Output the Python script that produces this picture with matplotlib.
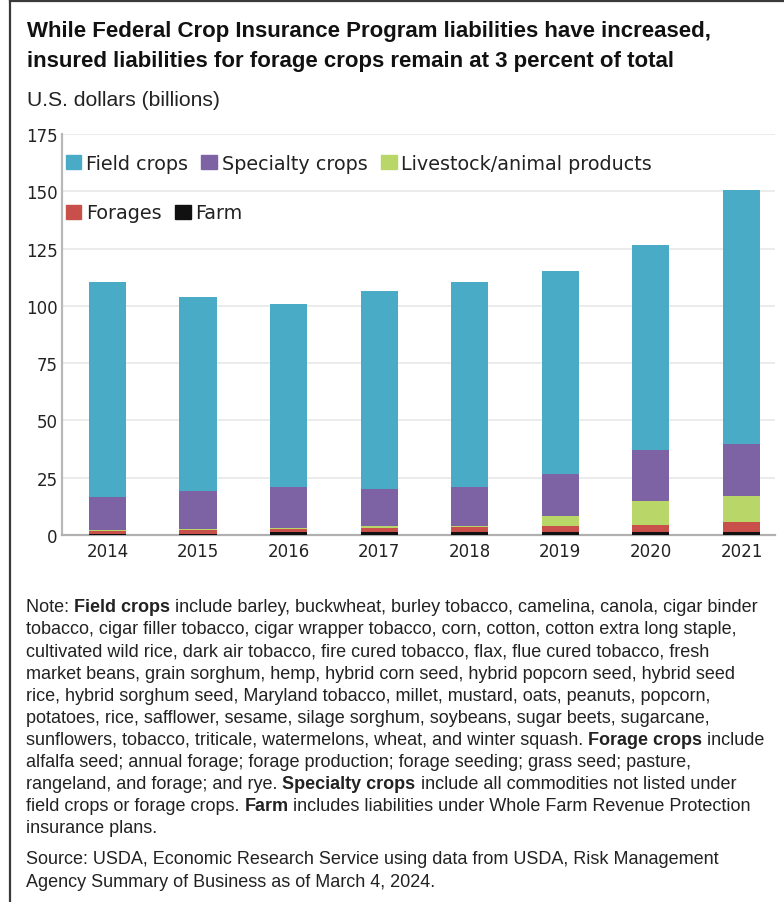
import matplotlib
matplotlib.use('Agg')
import matplotlib.pyplot as plt
from matplotlib.patches import Patch
from matplotlib.text import Annotation
from matplotlib.lines import Line2D
import matplotlib.font_manager as fm
import numpy as np

# ---------------- data ----------------
years = ['2014', '2015', '2016', '2017', '2018', '2019', '2020', '2021']
farm      = [0.3, 0.6, 1.2, 1.5, 1.5, 1.2, 1.2, 1.2]
forages   = [1.3, 1.5, 1.5, 1.7, 1.8, 2.6, 3.2, 4.4]
livestock = [0.5, 0.6, 0.5, 0.6, 0.7, 4.7, 10.3, 11.6]
specialty = [14.6, 16.5, 17.6, 16.2, 16.8, 18.1, 22.4, 22.5]
field     = [93.6, 84.8, 80.2, 86.5, 89.8, 88.7, 89.5, 110.8]
yticks = [0, 25, 50, 75, 100, 125, 150, 175]

title_lines = ["While Federal Crop Insurance Program liabilities have increased,",
               "insured liabilities for forage crops remain at 3 percent of total"]
ylabel_text = "U.S. dollars (billions)"
note_lines = [
    "Note: **Field crops** include barley, buckwheat, burley tobacco, camelina, canola, cigar binder",
    "tobacco, cigar filler tobacco, cigar wrapper tobacco, corn, cotton, cotton extra long staple,",
    "cultivated wild rice, dark air tobacco, fire cured tobacco, flax, flue cured tobacco, fresh",
    "market beans, grain sorghum, hemp, hybrid corn seed, hybrid popcorn seed, hybrid seed",
    "rice, hybrid sorghum seed, Maryland tobacco, millet, mustard, oats, peanuts, popcorn,",
    "potatoes, rice, safflower, sesame, silage sorghum, soybeans, sugar beets, sugarcane,",
    "sunflowers, tobacco, triticale, watermelons, wheat, and winter squash. **Forage crops** include",
    "alfalfa seed; annual forage; forage production; forage seeding; grass seed; pasture,",
    "rangeland, and forage; and rye. **Specialty crops** include all commodities not listed under",
    "field crops or forage crops. **Farm** includes liabilities under Whole Farm Revenue Protection",
    "insurance plans.",
]
source_lines = ["Source: USDA, Economic Research Service using data from USDA, Risk Management",
                "Agency Summary of Business as of March 4, 2024."]

# ---------------- fonts ----------------
names = {f.name for f in fm.fontManager.ttflist}
TEXT_FONT = 'Liberation Sans' if 'Liberation Sans' in names else 'DejaVu Sans'
plt.rcParams['font.family'] = 'DejaVu Sans'

W, H = 784, 903
fig = plt.figure(figsize=(W / 100, H / 100), dpi=100)
fig.patch.set_facecolor('white')

def fx(px):
    return px / W

def fy(py):
    return 1 - py / H

ax = fig.add_axes([fx(62), fy(536), (775 - 62) / W, (536 - 135) / H])

x = np.arange(len(years))
bw = 0.41
series = [('Farm', farm, '#111111'),
          ('Forages', forages, '#C9504A'),
          ('Livestock/animal products', livestock, '#B9D769'),
          ('Specialty crops', specialty, '#7D62A4'),
          ('Field crops', field, '#4AABC6')]
bottom = np.zeros(len(years))
colors = {}
for name, vals, col in series:
    ax.bar(x, vals, bw, bottom=bottom, color=col, label=name, zorder=3, linewidth=0)
    bottom += np.array(vals)
    colors[name] = col

ax.set_xlim(-0.502, 7.37)
ax.set_ylim(0, 175)
ax.set_yticks(yticks)
ax.set_xticks(x, years)
ax.grid(axis='y', color='#e9e9e9', lw=1.3, zorder=0)
ax.set_axisbelow(True)
ax.tick_params(length=0, labelsize=12, colors='#222222')
ax.tick_params(axis='y', pad=3)
ax.tick_params(axis='x', pad=5)
for s in ['top', 'right']:
    ax.spines[s].set_visible(False)
ax.spines['left'].set_color('#b8b8b8')
ax.spines['left'].set_linewidth(1.6)
ax.spines['bottom'].set_color('#b0b0b0')
ax.spines['bottom'].set_linewidth(1.6)

# legends
lfs = 13.8
common = dict(fontsize=lfs, frameon=False, borderpad=0, borderaxespad=0,
              handlelength=0.83, handleheight=0.78, handletextpad=0.25,
              columnspacing=0.68, labelcolor='#222222', loc='center left',
              bbox_transform=fig.transFigure)
row1 = ['Field crops', 'Specialty crops', 'Livestock/animal products']
row2 = ['Forages', 'Farm']
leg1 = ax.legend([Patch(color=colors[n]) for n in row1], row1, ncol=3,
                 bbox_to_anchor=(fx(65.5), fy(164)), **common)
ax.add_artist(leg1)
leg2 = ax.legend([Patch(color=colors[n]) for n in row2], row2, ncol=2,
                 bbox_to_anchor=(fx(65.5), fy(214)), **common)

# texts
TXT = '#222222'
t1 = fig.text(fx(27.5), fy(37), title_lines[0], fontsize=14, fontweight='bold',
              family=TEXT_FONT, color='#111111', va='baseline')
t2 = fig.text(fx(27.5), fy(67), title_lines[1], fontsize=14, fontweight='bold',
              family=TEXT_FONT, color='#111111', va='baseline')
yl = fig.text(fx(27.5), fy(106), ylabel_text, fontsize=12.5, family=TEXT_FONT,
              color=TXT, va='baseline')

def rich_line(x_px, y_px, line, size):
    parts = line.split('**')
    prev = None
    arts = []
    for i, p in enumerate(parts):
        if not p:
            continue
        w = 'bold' if i % 2 else 'normal'
        if prev is None:
            a = Annotation(p, xy=(fx(x_px), fy(y_px)), xycoords='figure fraction',
                           va='baseline', ha='left', fontsize=size, fontweight=w,
                           family=TEXT_FONT, color=TXT)
        else:
            a = Annotation(p, xy=(1, 0), xycoords=prev, va='bottom', ha='left',
                           fontsize=size, fontweight=w, family=TEXT_FONT, color=TXT)
        fig.add_artist(a)
        arts.append(a)
        prev = a
    return arts

# fit sizes to reference widths
renderer = fig.canvas.get_renderer()
def width(t):
    return t.get_window_extent(renderer).width

s = 14 * 687.5 / width(t1)
t1.set_fontsize(s); t2.set_fontsize(s)
yl.set_fontsize(12.5 * 195 / width(yl))

probe = []
for i, p in enumerate(note_lines[0].split('**')):
    tt = fig.text(0, 0, p, fontsize=12, family=TEXT_FONT,
                  fontweight='bold' if i % 2 else 'normal')
    probe.append(tt)
wsum = sum(width(tt) for tt in probe)
for tt in probe:
    tt.remove()
note_size = 12 * (761 - 26) / wsum

y0 = 612.3
for k, line in enumerate(note_lines):
    rich_line(26, y0 + k * 22.1, line, note_size)
for k, line in enumerate(source_lines):
    rich_line(26, 864 + k * 22.6, line, note_size)

# frame lines at left and top
fig.add_artist(Line2D([fx(9.5), fx(9.5)], [0, fy(2)], transform=fig.transFigure,
                      color='#3a3a3a', lw=1.6))
fig.add_artist(Line2D([fx(9.5), 1], [fy(2), fy(2)], transform=fig.transFigure,
                      color='#3a3a3a', lw=1.6))

fig.savefig('out.png', dpi=100, facecolor='white')
